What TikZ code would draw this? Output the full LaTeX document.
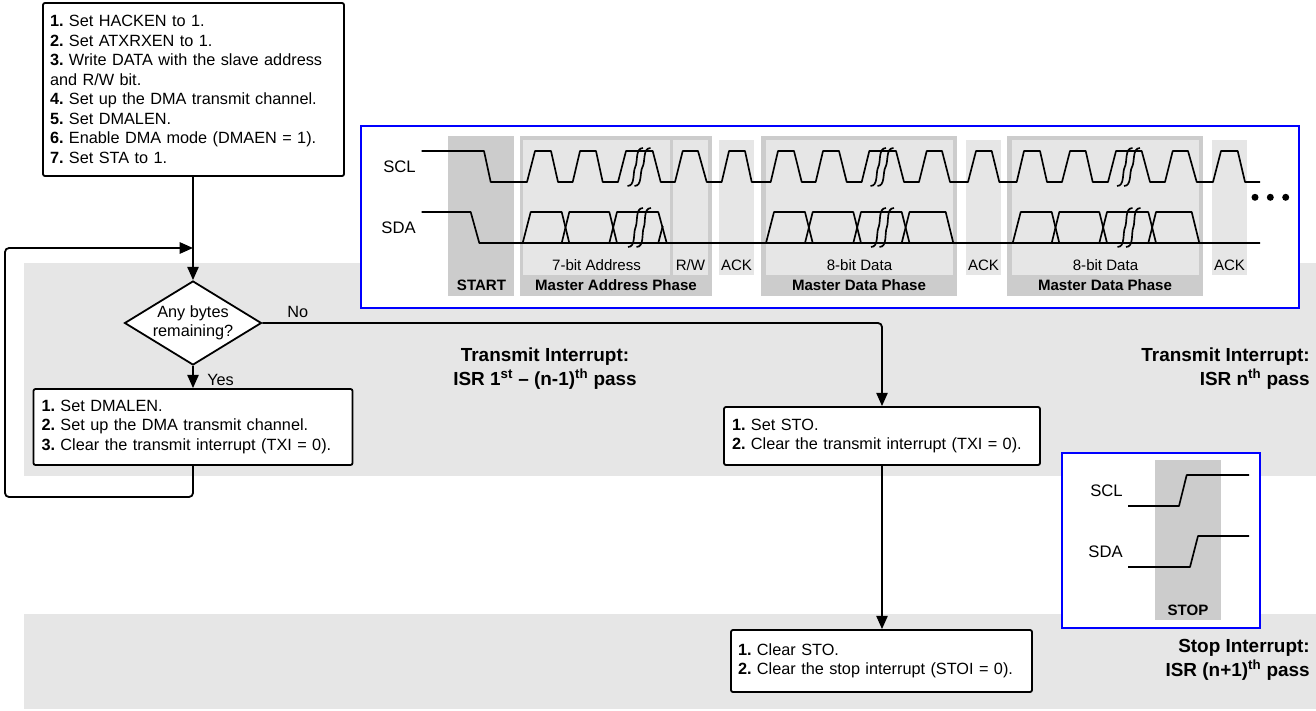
\documentclass[tikz,border=0pt]{standalone}
\usepackage{fontspec}
\setmainfont{Liberation Sans}
\usetikzlibrary{arrows.meta,shapes.geometric}
\newdimen\px \px=.75pt
\definecolor{bandgrey}{HTML}{E6E6E6}
\definecolor{darkgrey}{HTML}{CCCCCC}
\newcommand{\sq}[4]{\draw[wave] (#1,#2) .. controls ({#1+8},#2) and ({#1+5},{#2-14}) .. ({(#1+#3)/2},{(#2+#4)/2}) .. controls ({#3-5},{#4+14}) and ({#3-8},#4) .. (#3,#4);}
\tikzset{
  band/.style={fill=bandgrey,draw=none},
  dark/.style={fill=darkgrey,draw=none},
  frame/.style={draw=blue,line width=1.5pt,fill=white},
  wave/.style={line width=1.25pt,line join=round},
  conn/.style={line width=1.35pt,rounded corners=3pt},
  arr/.style={conn,-{Triangle[length=10pt,width=8.5pt]}},
  stepbox/.style={draw,line width=1.35pt,fill=white,rounded corners=1.5pt,align=left,inner sep=0pt,font=\frenchspacing\fontsize{12.2}{14.6}\selectfont},
  decide/.style={draw,line width=1.35pt,fill=white,shape=diamond,aspect=1.63,inner sep=0pt,align=center,font=\fontsize{12.2}{14.6}\selectfont},
  sig/.style={font=\fontsize{12.5}{15}\selectfont,inner sep=0pt},
  small/.style={font=\fontsize{11.3}{13}\selectfont,inner sep=0pt},
  smallb/.style={font=\fontsize{11.3}{13}\selectfont\bfseries,inner sep=0pt},
  txt/.style={font=\fontsize{12.2}{14}\selectfont,inner sep=0pt},
  isr/.style={font=\fontsize{14.2}{18}\selectfont\bfseries,inner sep=0pt},
}
\begin{document}
\begin{tikzpicture}[x=.75pt,y=-.75pt]
\useasboundingbox (0,0) rectangle (1316,710);
% bands
\fill[band] (24,263) rectangle (1316,476);
\fill[band] (24,614) rectangle (1316,709);
% main timing frame
\draw[frame] (361,126) rectangle (1299,308);
\fill[dark] (448,136) rectangle (514,296);
\fill[dark] (520,136) rectangle (712,296);
\fill[dark] (761,136) rectangle (957,296);
\fill[dark] (1007,136) rectangle (1203,296);
\fill[band] (523,140) rectangle (670,275);
\fill[band] (673,140) rectangle (708,275);
\fill[band] (719,140) rectangle (754,275);
\fill[band] (766,140) rectangle (953,275);
\fill[band] (966,140) rectangle (1001,275);
\fill[band] (1012,140) rectangle (1199,275);
\fill[band] (1212,140) rectangle (1247,275);
% SCL
\draw[wave] (421.7,151)--(484,151)--(490.7,182)--(527,182)--(535,151)--(551,151)--(558,182)--(572.7,182)--(580,151)--(596,151)--(602.7,182)--(618,182)--(626,151)--(652.7,151)--(660.7,182)--(675,182)--(682.7,151)--(698,151)--(706.7,182)--(721.7,182)--(729,151)--(745,151)--(751.7,182)--(770.7,182)--(778,151)--(794,151)--(801.7,182)--(815.7,182)--(823,151)--(839,151)--(846.7,182)--(861.7,182)--(869.3,151)--(896,151)--(904,182)--(919,182)--(926.7,151)--(942,151)--(950,182)--(968,182)--(976,151)--(991.7,151)--(999.3,182)--(1016.7,182)--(1024,151)--(1040,151)--(1047,182)--(1062,182)--(1070,151)--(1085.7,151)--(1092.7,182)--(1108,182)--(1116,151)--(1141.7,151)--(1150,182)--(1165,182)--(1172.7,151)--(1188,151)--(1196.7,182)--(1213,182)--(1221,151)--(1237.7,151)--(1245,182)--(1260,182);
% SDA
\draw[wave] (421.7,212)--(470.7,212)--(479.3,243)--(1260,243);
\draw[wave] (522.7,243)--(530.7,212)--(561.7,212)--(569.3,243);
\draw[wave] (561.7,243)--(569.3,212)--(609.3,212)--(617,243);
\draw[wave] (609.3,243)--(617,212)--(658.3,212)--(666.7,243);
\draw[wave] (658.3,243)--(662.7,226);
\draw[wave] (766,243)--(774,212)--(805,212)--(812.7,243);
\draw[wave] (805,243)--(812.7,212)--(853.3,212)--(861,243);
\draw[wave] (853.3,243)--(861,212)--(901.7,212)--(909.5,243);
\draw[wave] (901.7,243)--(909.5,212)--(945.7,212)--(953.3,243);
\draw[wave] (1012.7,243)--(1020.7,212)--(1051.7,212)--(1059.3,243);
\draw[wave] (1051.7,243)--(1059.3,212)--(1099.3,212)--(1107,243);
\draw[wave] (1099.3,243)--(1107,212)--(1148.3,212)--(1156,243);
\draw[wave] (1148.3,243)--(1156,212)--(1191.7,212)--(1199.3,243);
% squiggles
\sq{627.5}{186}{643}{148}\sq{634.5}{186}{650.5}{148}
\sq{628}{247}{643}{208}\sq{636.5}{247}{651}{208}
\sq{870.5}{186}{886}{148}\sq{877.5}{186}{893.5}{148}
\sq{871}{247}{886}{208}\sq{879.5}{247}{894}{208}
\sq{1117}{186}{1132.5}{148}\sq{1124}{186}{1140}{148}
\sq{1117.5}{247}{1132.5}{208}\sq{1126}{247}{1140.5}{208}
% dots
\fill (1255,197.3) circle (3.5) (1270.3,197.3) circle (3.5) (1285.7,197.3) circle (3.5);
% timing labels
\node[sig,anchor=east] (sclA) at (416,167) {SCL};
\node[sig,anchor=east] (sdaA) at (416,228) {SDA};
\node[smallb] (lstart) at (481.5,285.5) {START};
\node[small] (laddr) at (596.5,265) {7-bit Address};
\node[small] (lrw) at (690.5,265) {R/W};
\node[small] (lack1) at (736.5,265) {ACK};
\node[smallb] (lmap) at (616,285.5) {Master Address Phase};
\node[small] (ld1) at (859.5,265) {8-bit Data};
\node[small] (lack2) at (983.5,265) {ACK};
\node[smallb] (lmd1) at (859,285.5) {Master Data Phase};
\node[small] (ld2) at (1105.5,265) {8-bit Data};
\node[small] (lack3) at (1229.5,265) {ACK};
\node[smallb] (lmd2) at (1105,285.5) {Master Data Phase};
% stop frame
\draw[frame] (1062,453) rectangle (1260,628);
\fill[dark] (1155,460) rectangle (1221,620);
\draw[wave] (1128,506)--(1179,506)--(1186.7,475)--(1249,475);
\draw[wave] (1128,567)--(1190,567)--(1198,536)--(1249,536);
\node[sig,anchor=east] (sclB) at (1123,490.5) {SCL};
\node[sig,anchor=east] (sdaB) at (1123,551.5) {SDA};
\node[smallb] (lstop) at (1188,610) {STOP};
% flow nodes
\node[stepbox,minimum width=301\px,minimum height=173\px,text width=287\px] (init) at (193.5,89.5) {\textbf{1.} Set HACKEN to 1.\\\textbf{2.} Set ATXRXEN to 1.\\\textbf{3.} Write DATA with the slave address\\and R/W bit.\\\textbf{4.} Set up the DMA transmit channel.\\\textbf{5.} Set DMALEN.\\\textbf{6.} Enable DMA mode (DMAEN = 1).\\\textbf{7.} Set STA to 1.};
\node[decide] (any) at (193,323) {Any bytes\\remaining?};
\node[stepbox,minimum width=319\px,minimum height=76\px,text width=303\px] (pass) at (193,427) {\textbf{1.} Set DMALEN.\\\textbf{2.} Set up the DMA transmit channel.\\\textbf{3.} Clear the transmit interrupt (TXI = 0).};
\node[stepbox,minimum width=316\px,minimum height=58\px,text width=300\px] (last) at (882,436) {\textbf{1.} Set STO.\\\textbf{2.} Clear the transmit interrupt (TXI = 0).};
\node[stepbox,minimum width=301\px,minimum height=62\px,text width=287\px] (stopb) at (881.5,661) {\textbf{1.} Clear STO.\\\textbf{2.} Clear the stop interrupt (STOI = 0).};
\coordinate (join) at (193,248);
\coordinate (lb) at (5,497);
\coordinate (lt) at (5,248);
\coordinate (rb) at (193,497);
\coordinate (nc) at (882,323);
% connectors
\draw[arr] (init.south -| any.north) -- (any.north);
\draw[arr] (any.south) -- (pass.north -| any.south);
\draw[arr] (pass.south -| any.south) -- (rb) -- (lb) -- (lt) -- (join);
\draw[arr] (any.east) -- (nc) -- (last.north -| nc);
\draw[arr] (last.south -| nc) -- (stopb.north -| nc);
\node[txt,anchor=west] (lno) at (287,312) {No};
\node[txt,anchor=west] (lyes) at (207,380) {Yes};
% ISR labels
\node[isr,align=center] (isr1) at (545,369) {Transmit Interrupt:\\ISR 1\textsuperscript{st} – (n-1)\textsuperscript{th} pass};
\node[isr,align=right,anchor=east] (isr2) at (1310,369) {Transmit Interrupt:\\ISR n\textsuperscript{th} pass};
\node[isr,align=right,anchor=east] (isr3) at (1310,660) {Stop Interrupt:\\ISR (n+1)\textsuperscript{th} pass};
\end{tikzpicture}
\end{document}
